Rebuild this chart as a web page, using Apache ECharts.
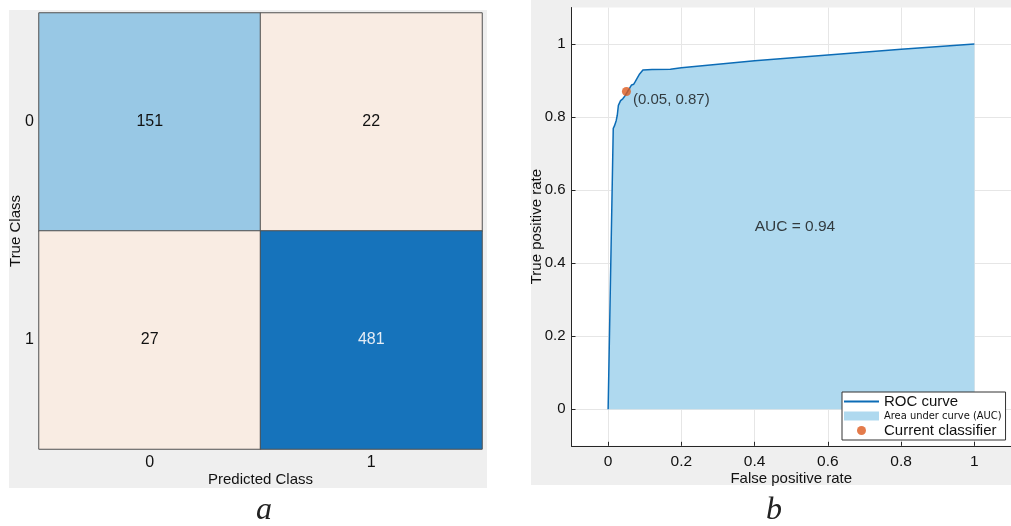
<!DOCTYPE html>
<html>
<head>
<meta charset="utf-8">
<style>
  html, body { margin: 0; padding: 0; background: #fff; }
  #chart { width: 1011px; height: 526px; }
</style>
<script src="https://cdn.jsdelivr.net/npm/echarts@6/dist/echarts.min.js"></script>
</head>
<body>
<div id="chart"></div>
<script>
// ---- Confusion matrix (panel a) ----
const classLabels = ['0', '1'];
const confusion = [
  [151, 22],   // true class 0
  [27, 481]    // true class 1
];

// ---- ROC curve (panel b) ----
const fpr = [0, 0.014, 0.017, 0.022, 0.025, 0.028, 0.034, 0.040, 0.046, 0.053, 0.058,
             0.064, 0.070, 0.074, 0.079, 0.086, 0.095, 0.12, 0.17, 0.2, 0.4, 0.6, 0.8, 1];
const tpr = [0, 0.769, 0.775, 0.790, 0.805, 0.832, 0.845, 0.850, 0.858, 0.870, 0.878,
             0.888, 0.890, 0.897, 0.906, 0.918, 0.929, 0.930, 0.931, 0.935, 0.954, 0.970, 0.986, 1];
const currentPoint = [0.05, 0.87];
const aucValue = 0.94;
const aucLabelPos = [0.51, 0.5];

const FONT = "'Liberation Sans', Arial, Helvetica, sans-serif";
const TEXT = '#111111';

// heatmap cells: diagonal in blues by count, off-diagonal in cream
const diagMax = Math.max(confusion[0][0], confusion[1][1]);
const heatData = [];
confusion.forEach((row, t) => {
  row.forEach((v, p) => {
    let color, labelColor = TEXT;
    if (t === p) {
      if (v === diagMax) { color = '#1673bb'; labelColor = '#e4ecf5'; }
      else { color = '#98c8e5'; }
    } else {
      color = '#f9ece3';
    }
    heatData.push({ value: [p, t, v], itemStyle: { color }, label: { color: labelColor } });
  });
});

const rocData = fpr.map((x, i) => [x, tpr[i]]);

const chart = echarts.init(document.getElementById('chart'), null, { renderer: 'canvas' });

chart.setOption({
  animation: false,
  backgroundColor: '#ffffff',
  textStyle: { fontFamily: FONT },
  graphic: [
    { type: 'rect', z: -10, silent: true, shape: { x: 9, y: 10, width: 478, height: 478 }, style: { fill: '#efefef' } },
    { type: 'rect', z: -10, silent: true, shape: { x: 531, y: 0, width: 480, height: 485 }, style: { fill: '#efefef' } },
    { type: 'text', x: 264, y: 511, style: { text: 'a', fontFamily: "'Liberation Serif', 'Times New Roman', serif", fontStyle: 'italic', fontSize: 32, fill: '#222', align: 'center', verticalAlign: 'middle' } },
    { type: 'text', x: 774, y: 511, style: { text: 'b', fontFamily: "'Liberation Serif', 'Times New Roman', serif", fontStyle: 'italic', fontSize: 32, fill: '#222', align: 'center', verticalAlign: 'middle' } }
  ],
  grid: [
    { left: 39, top: 13, width: 443, height: 436, containLabel: false },
    { left: 571.5, top: 7.5, width: 442, height: 438.3, containLabel: false,
      show: true, backgroundColor: '#ffffff', borderWidth: 0 }
  ],
  legend: {
    left: 842, top: 392,
    orient: 'vertical',
    backgroundColor: '#ffffff',
    borderColor: '#333333', borderWidth: 1, borderRadius: 0,
    padding: [2, 4, 2, 2],
    itemWidth: 35, itemHeight: 9, itemGap: 0.5,
    itemStyle: { borderWidth: 0 },
    selectedMode: false,
    textStyle: { fontSize: 15, lineHeight: 13, color: TEXT, fontFamily: FONT },
    data: [
      { name: 'ROC curve', icon: 'path://M0,0L36,0L36,2L0,2Z' },
      { name: 'Area under curve (AUC)', icon: 'rect',
        textStyle: { fontSize: 11, fontFamily: "'DejaVu Sans Condensed', 'Liberation Sans Narrow', " + FONT } },
      { name: 'Current classifier', icon: 'circle' }
    ]
  },
  xAxis: [
    {
      gridIndex: 0, type: 'category', data: classLabels,
      axisLine: { show: false }, axisTick: { show: false },
      splitLine: { show: false },
      axisLabel: { fontSize: 16, color: TEXT, margin: 6 },
      name: 'Predicted Class', nameLocation: 'middle', nameGap: 23, nameMoveOverlap: false,
      nameTextStyle: { fontSize: 15, color: TEXT }
    },
    {
      gridIndex: 1, type: 'value', min: -0.1, max: 1.1, splitNumber: 5,
      axisLine: { show: true, onZero: false, lineStyle: { color: '#262626', width: 1 } },
      axisTick: { show: true, inside: true, length: 4, lineStyle: { color: '#262626' } },
      axisLabel: { fontSize: 15.5, color: TEXT, margin: 8, showMinLabel: false, showMaxLabel: false },
      splitLine: { show: true, showMinLine: false, showMaxLine: false, lineStyle: { color: '#e6e6e6', width: 1 } },
      name: 'False positive rate', nameLocation: 'middle', nameGap: 26, nameMoveOverlap: false,
      nameTextStyle: { fontSize: 15, color: TEXT }
    }
  ],
  yAxis: [
    {
      gridIndex: 0, type: 'category', data: classLabels, inverse: true,
      axisLine: { show: false }, axisTick: { show: false },
      splitLine: { show: false },
      axisLabel: { fontSize: 16, color: TEXT, margin: 5 },
      name: 'True Class', nameLocation: 'middle', nameGap: 16, nameRotate: 90, nameMoveOverlap: false,
      nameTextStyle: { fontSize: 15, color: TEXT }
    },
    {
      gridIndex: 1, type: 'value', min: -0.1, max: 1.1, splitNumber: 5,
      axisLine: { show: true, onZero: false, lineStyle: { color: '#262626', width: 1 } },
      axisTick: { show: true, inside: true, length: 4, lineStyle: { color: '#262626' } },
      axisLabel: { fontSize: 15, color: TEXT, margin: 6, showMinLabel: false, showMaxLabel: false },
      splitLine: { show: true, showMinLine: false, showMaxLine: false, lineStyle: { color: '#e6e6e6', width: 1 } },
      name: 'True positive rate', nameLocation: 'middle', nameGap: 27, nameRotate: 90, nameMoveOverlap: false,
      nameTextStyle: { fontSize: 15, color: TEXT }
    }
  ],
  series: [
    {
      name: 'Confusion', type: 'heatmap', xAxisIndex: 0, yAxisIndex: 0,
      data: heatData,
      itemStyle: { borderColor: '#505050', borderWidth: 1 },
      label: { show: true, fontSize: 16, fontFamily: FONT },
      emphasis: { disabled: true }
    },
    {
      name: 'Area under curve (AUC)', type: 'line', xAxisIndex: 1, yAxisIndex: 1,
      data: rocData, showSymbol: false, symbol: 'none',
      itemStyle: { color: '#afd9ef' },
      lineStyle: { width: 0, color: '#afd9ef' },
      areaStyle: { color: '#afd9ef', opacity: 1 },
      z: 2, silent: true
    },
    {
      name: 'ROC curve', type: 'line', xAxisIndex: 1, yAxisIndex: 1,
      data: rocData, showSymbol: false, symbol: 'none',
      itemStyle: { color: '#0c6cb6' },
      lineStyle: { width: 1.5, color: '#0c6cb6' },
      z: 3, silent: true
    },
    {
      name: 'Current classifier', type: 'scatter', xAxisIndex: 1, yAxisIndex: 1,
      data: [currentPoint], symbolSize: 9,
      itemStyle: { color: '#dd5a1e' },
      label: {
        show: true, position: 'right', distance: 2, offset: [0, 8],
        fontSize: 15, color: TEXT,
        formatter: p => '(' + p.value[0].toFixed(2) + ', ' + p.value[1].toFixed(2) + ')'
      },
      z: 4, silent: true
    },
    {
      name: 'AUC text', type: 'scatter', xAxisIndex: 1, yAxisIndex: 1,
      data: [aucLabelPos], symbolSize: 0,
      label: {
        show: true, position: 'inside', fontSize: 15.5, color: TEXT,
        formatter: () => 'AUC = ' + aucValue.toFixed(2)
      },
      z: 4, silent: true
    }
  ]
});
</script>
</body>
</html>
